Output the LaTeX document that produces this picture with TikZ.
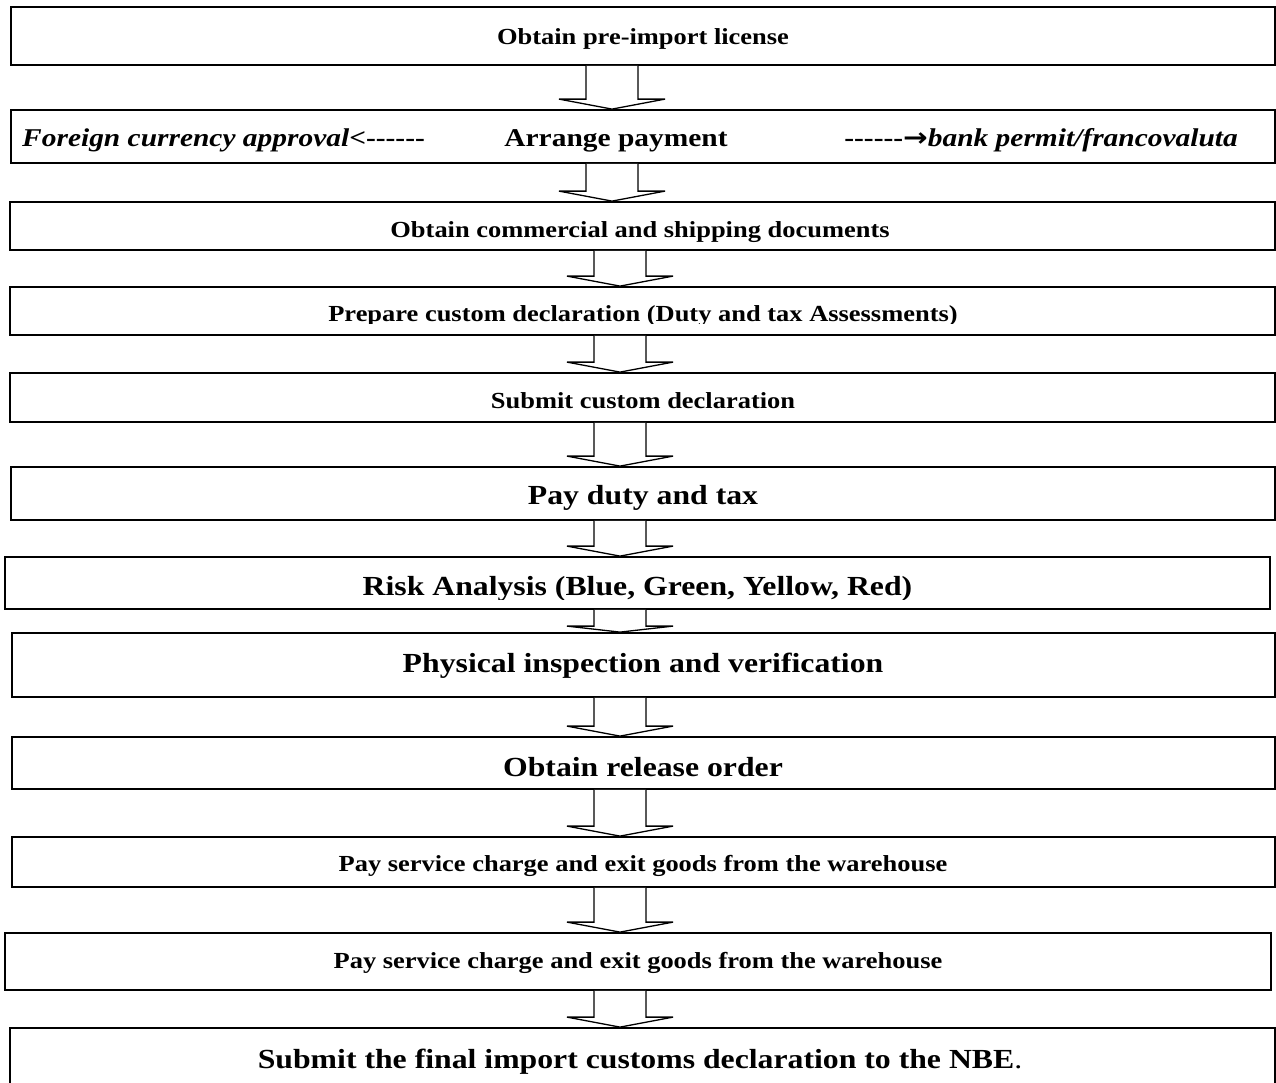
\documentclass[tikz,border=0pt]{standalone}
\usepackage{fontspec}
\newfontfamily\boxfont{Liberation Serif}[FakeStretch=1.15]
\newfontfamily\symfont{DejaVu Sans}[FakeStretch=1.15]
\usetikzlibrary{calc}

% block arrow between two steps: [head height]{from}{to}{centre x}
\newcommand{\flowarrow}[4][10]{%
  \draw[arr] let \p1=(#2.south), \p2=(#3.north) in
    ({#4pt-26pt},\y1) -- ({#4pt-26pt},\y2+#1pt) -- ({#4pt-53pt},\y2+#1pt)
    -- (#4pt,\y2) -- ({#4pt+53pt},\y2+#1pt) -- ({#4pt+26pt},\y2+#1pt) -- ({#4pt+26pt},\y1);
}

\begin{document}
\begin{tikzpicture}[
			x=1pt, y=-1pt,
			box/.style={draw, line width=1.8pt, fill=white, inner sep=0pt},
			arr/.style={draw, line width=1.3pt, fill=white, line join=miter},
			small/.style={font=\boxfont\bfseries\fontsize{23}{26}\selectfont, inner sep=0pt, anchor=base},
			mid/.style={font=\boxfont\bfseries\fontsize{25.6}{29}\selectfont, inner sep=0pt, anchor=base},
			big/.style={font=\boxfont\bfseries\fontsize{27.6}{31}\selectfont, inner sep=0pt, anchor=base}
			]
			\useasboundingbox (0,0) rectangle (1276,1082);
			% steps
			\node[box, minimum width=1264, minimum height=58] (b1) at (643,36) {};
			\node[box, minimum width=1264, minimum height=53] (b2) at (643,136.5) {};
			\node[box, minimum width=1265, minimum height=48] (b3) at (642.5,226) {};
			\node[box, minimum width=1265, minimum height=48] (b4) at (642.5,311) {};
			\node[box, minimum width=1265, minimum height=49] (b5) at (642.5,397.5) {};
			\node[box, minimum width=1264, minimum height=53] (b6) at (643,493.5) {};
			\node[box, minimum width=1265, minimum height=52] (b7) at (637.5,583) {};
			\node[box, minimum width=1263, minimum height=64] (b8) at (643.5,665) {};
			\node[box, minimum width=1263, minimum height=52] (b9) at (643.5,763) {};
			\node[box, minimum width=1263, minimum height=50] (b10) at (643.5,862) {};
			\node[box, minimum width=1266, minimum height=57] (b11) at (638,961.5) {};
			\node[box, minimum width=1265, minimum height=72] (b12) at (642.5,1064) {};
			% labels
			\node[small] (t1) at (643,44) {Obtain pre-import license};
			\node[mid, anchor=base west] (t2a) at (22,146) {{\itshape Foreign currency approval}<------};
			\node[mid] (t2b) at (616,146) {Arrange payment};
			\node[mid, anchor=base east] (t2c) at (1238,146) {------{\symfont →}{\itshape bank permit/francovaluta}};
			\begin{scope}
				\clip (10,202) rectangle (1275,246);
				\node[small] (t3) at (640,237) {Obtain commercial and shipping documents};
			\end{scope}
			\begin{scope}
				\clip (10,287) rectangle (1275,323);
				\node[small] (t4) at (643,321) {Prepare custom declaration (Duty and tax Assessments)};
			\end{scope}
			\node[small] (t5) at (643,408) {Submit custom declaration};
			\begin{scope}
				\clip (11,467) rectangle (1275,509);
				\node[big] (t6) at (643,504) {Pay duty and tax};
			\end{scope}
			\begin{scope}
				\clip (5,557) rectangle (1270,599);
				\node[big] (t7) at (637.5,595) {Risk Analysis (Blue, Green, Yellow, Red)};
			\end{scope}
			\node[big] (t8) at (643,672) {Physical inspection and verification};
			\node[big] (t9) at (643,776) {Obtain release order};
			\node[small] (t10) at (643,871) {Pay service charge and exit goods from the warehouse};
			\node[small] (t11) at (638,968) {Pay service charge and exit goods from the warehouse};
			\node[big] (t12) at (640,1068) {Submit the final import customs declaration to the NBE{\mdseries .}};
			% arrows
			\flowarrow{b1}{b2}{612}
			\flowarrow{b2}{b3}{612}
			\flowarrow{b3}{b4}{620}
			\flowarrow{b4}{b5}{620}
			\flowarrow{b5}{b6}{620}
			\flowarrow{b6}{b7}{620}
			\flowarrow[6]{b7}{b8}{620}
			\flowarrow{b8}{b9}{620}
			\flowarrow{b9}{b10}{620}
			\flowarrow{b10}{b11}{620}
			\flowarrow{b11}{b12}{620}
		\end{tikzpicture}
\end{document}
